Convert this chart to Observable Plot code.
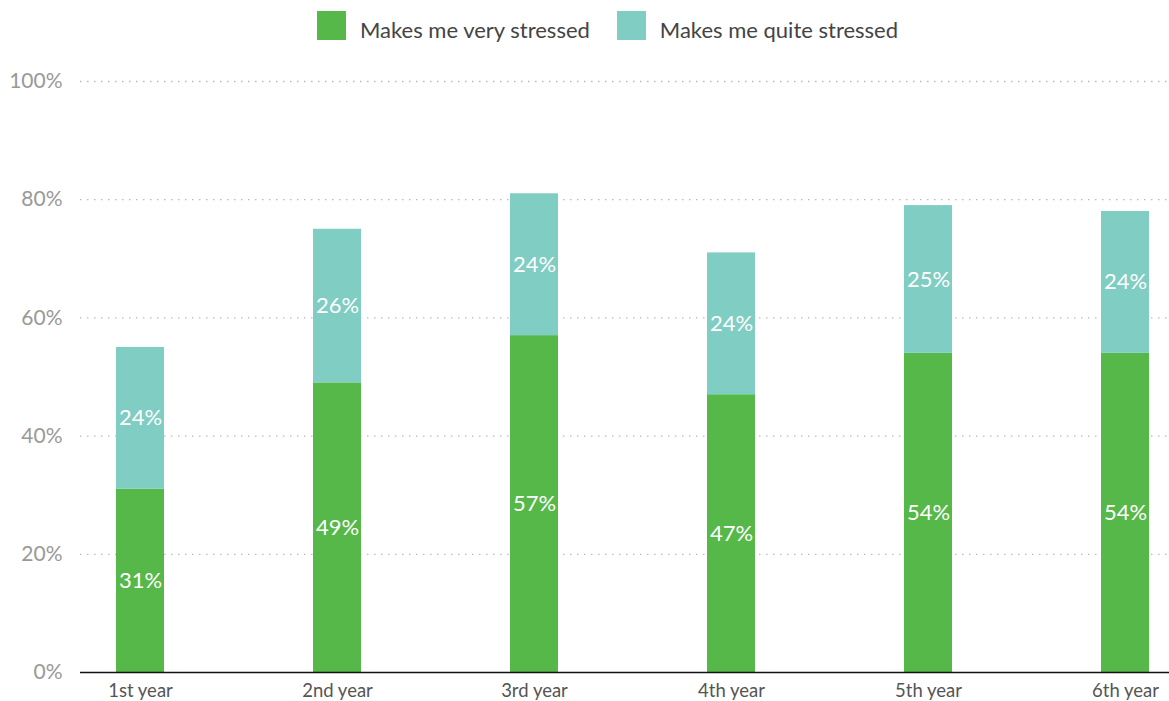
<!DOCTYPE html>
<html>
<head>
<meta charset="utf-8">
<script src="https://cdn.jsdelivr.net/npm/d3@7"></script>
<script src="https://cdn.jsdelivr.net/npm/@observablehq/plot@0.6"></script>
<style>
  html, body { margin: 0; padding: 0; background: #fff; font-family: Lato, "Open Sans", sans-serif; }
  #legend { height: 50px; display: flex; align-items: center; justify-content: flex-start; padding-left: 317px; padding-top: 6px; box-sizing: border-box; }
  .item { display: flex; align-items: center; margin-right: 27px; font-size: 22px; color: #444; }
  .sw { width: 29px; height: 29px; margin-right: 14px; margin-top: -6px; }
  .item span { margin-top: 2px; }
  svg text { font-family: Lato, "Open Sans", sans-serif; }
  g[aria-label="y-axis tick label"] text { fill: #999; font-size: 21px; }
  g[aria-label="x-axis tick label"] text { fill: #555; font-size: 18.5px; }
  g[aria-label="text"] text { font-size: 22px; }
</style>
</head>
<body>
<div id="legend"></div>
<div id="chart"></div>
<script>
const years = ["1st year", "2nd year", "3rd year", "4th year", "5th year", "6th year"];
const series = ["Makes me very stressed", "Makes me quite stressed"];
const veryStressed = [31, 49, 57, 47, 54, 54];
const quiteStressed = [24, 26, 24, 24, 25, 24];
const colors = ["#56b849", "#7fcdc3"];
const yTicks = [0, 20, 40, 60, 80, 100];

const data = [];
years.forEach((y, i) => {
  data.push({year: y, series: series[0], value: veryStressed[i]});
  data.push({year: y, series: series[1], value: quiteStressed[i]});
});

const legend = document.getElementById("legend");
series.forEach((s, i) => {
  const d = document.createElement("div");
  d.className = "item";
  d.innerHTML = `<div class="sw" style="background:${colors[i]}"></div><span>${s}</span>`;
  legend.appendChild(d);
});

const chart = Plot.plot({
  width: 1169,
  height: 651,
  marginTop: 31,
  marginBottom: 29,
  marginLeft: 80,
  marginRight: 0,
  x: {domain: years, paddingInner: 0.757, paddingOuter: 0.14, align: 0.64, label: null},
  y: {domain: [0, 100], label: null},
  color: {domain: series, range: colors},
  marks: [
    Plot.gridY(yTicks.filter(d => d > 0), {stroke: "#bbb", strokeOpacity: 1, strokeDasharray: "1.5,5.5", strokeWidth: 1.3}),
    Plot.axisY(yTicks, {tickSize: 0, tickPadding: 18, tickFormat: d => d + "%"}),
    Plot.axisX({tickSize: 0, tickPadding: 11}),
    Plot.barY(data, {x: "year", y: "value", fill: "series", z: "series", order: series}),
    Plot.textY(data, Plot.stackY({x: "year", y: "value", z: "series", order: series, text: d => d.value + "%", fill: "white"})),
    Plot.ruleY([0], {stroke: "#111", strokeWidth: 1.3})
  ]
});
document.getElementById("chart").appendChild(chart);
</script>
</body>
</html>
